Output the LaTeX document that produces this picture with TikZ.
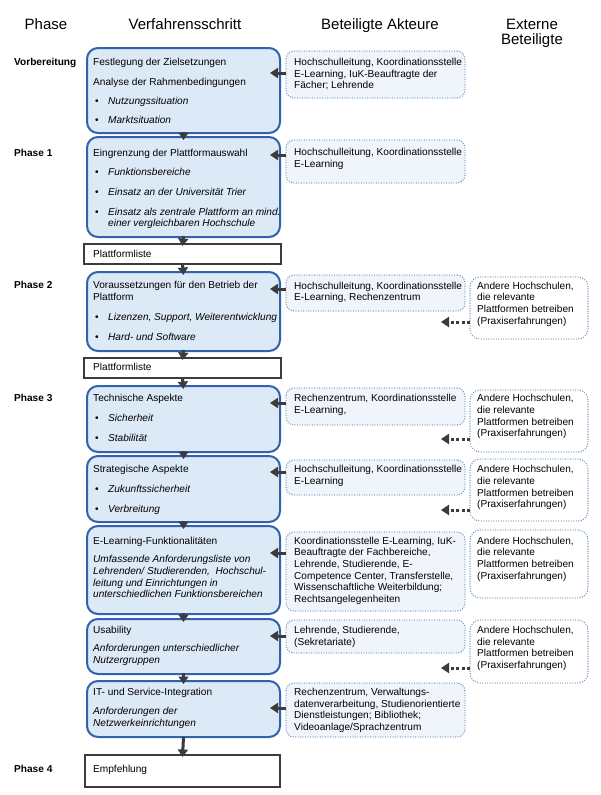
\documentclass[tikz,border=0pt]{standalone}
\usepackage{fontspec}
\setmainfont{Liberation Sans}
\usetikzlibrary{arrows.meta}
\definecolor{bblue}{RGB}{50,98,172}
\definecolor{bfill}{RGB}{220,233,247}
\definecolor{afill}{RGB}{240,245,251}
\definecolor{dotc}{RGB}{105,145,190}
\definecolor{dgray}{RGB}{60,60,60}
\newcommand\fs{\fontsize{10.1pt}{11.6pt}\selectfont}
\newcommand\VL[1]{\vtop{\baselineskip=11.6pt\lineskiplimit=-20pt\lineskip=0pt #1}}
\newcommand\Ln[1]{\hbox{#1}}
\newcommand\bul{\llap{\textbullet\hspace{9.5pt}}}
\newcommand\extxt{\VL{\Ln{Andere Hochschulen,}\Ln{die relevante}\Ln{Plattformen betreiben}\Ln{(Praxiserfahrungen)}}}
\begin{document}
\begin{tikzpicture}[x=1pt,y=-1pt,
 sbox/.style={draw=bblue,line width=2pt,fill=bfill,rounded corners=11pt,anchor=north west,inner sep=0pt,outer sep=0pt},
 lbox/.style={draw=dgray,line width=1.8pt,fill=white,anchor=north west,inner sep=0pt,outer sep=0pt},
 abox/.style={draw=dotc,line width=1.4pt,dash pattern=on 0pt off 2.5pt,line cap=round,fill=afill,rounded corners=8pt,anchor=north west,inner sep=0pt,outer sep=0pt},
 xbox/.style={abox,fill=white,rounded corners=10pt},
 tx/.style={anchor=base west,inner sep=0pt,font=\fs},
 ph/.style={anchor=base west,inner sep=0pt,font=\fs\bfseries},
 hd/.style={anchor=base,inner sep=0pt,font=\fontsize{15pt}{15.5pt}\selectfont},
 harr/.style={draw=dgray,line width=3pt,-{Triangle[length=8pt,width=10pt]}},
 varr/.style={draw=dgray,line width=3pt,-{Triangle[length=7.5pt,width=10pt]}},
 darr/.style={draw=dgray,line width=3pt,dash pattern=on 3pt off 2.5pt,-{Triangle[length=8pt,width=10pt]}}]
\fill[white] (0,0) rectangle (600,795);
\useasboundingbox (0,0) rectangle (600,795);
% headers
\node[hd] (h1) at (46,29) {Phase};
\node[hd] (h2) at (185,29) {Verfahrensschritt};
\node[hd] (h3) at (380,29) {Beteiligte Akteure};
\node[hd] (h4) at (532,29) {Externe};
\node[hd] (h5) at (532,44.5) {Beteiligte};
% phase labels
\node[ph] (lv) at (14,65.2) {Vorbereitung};
\node[ph] (l1) at (14,156.2) {Phase 1};
\node[ph] (l2) at (14,288.5) {Phase 2};
\node[ph] (l3) at (14,401.8) {Phase 3};
\node[ph] (l4) at (14,772.5) {Phase 4};
% step boxes
\node[sbox,minimum width=193pt,minimum height=85pt] (s1) at (87,48) {};
\node[sbox,minimum width=193pt,minimum height=100pt] (s2) at (87,137) {};
\node[lbox,minimum width=197pt,minimum height=20pt] (p1) at (84,244) {};
\node[sbox,minimum width=193pt,minimum height=79pt] (s3) at (87,272) {};
\node[lbox,minimum width=197pt,minimum height=20pt] (p2) at (84,358) {};
\node[sbox,minimum width=193pt,minimum height=66pt] (s4) at (87,386) {};
\node[sbox,minimum width=193pt,minimum height=66pt] (s5) at (87,456) {};
\node[sbox,minimum width=193pt,minimum height=88pt] (s6) at (87,526) {};
\node[sbox,minimum width=193pt,minimum height=55pt] (s7) at (87,619) {};
\node[sbox,minimum width=193pt,minimum height=56pt] (s8) at (87,681) {};
\node[lbox,minimum width=195pt,minimum height=32pt] (e) at (85,755) {};
% actor boxes
\node[abox,minimum width=179pt,minimum height=47pt] (ak1) at (286,51) {};
\node[abox,minimum width=179pt,minimum height=43pt] (ak2) at (286,140) {};
\node[abox,minimum width=179pt,minimum height=36pt] (ak3) at (286,275) {};
\node[abox,minimum width=179pt,minimum height=37pt] (ak4) at (286,388) {};
\node[abox,minimum width=179pt,minimum height=35pt] (ak5) at (286,460) {};
\node[abox,minimum width=179pt,minimum height=79pt] (ak6) at (286,532) {};
\node[abox,minimum width=179pt,minimum height=33pt] (ak7) at (286,620) {};
\node[abox,minimum width=179pt,minimum height=54pt] (ak8) at (286,683) {};
% external boxes
\node[xbox,minimum width=118pt,minimum height=62pt] (ex3) at (470,277) {};
\node[xbox,minimum width=118pt,minimum height=62pt] (ex4) at (470,390) {};
\node[xbox,minimum width=118pt,minimum height=62pt] (ex5) at (470,459) {};
\node[xbox,minimum width=118pt,minimum height=68pt] (ex6) at (470,530) {};
\node[xbox,minimum width=118pt,minimum height=63pt] (ex7) at (470,620) {};
% step texts
\node[tx] (t1a) at (93,65.5) {Festlegung der Zielsetzungen};
\node[tx] (t1b) at (93,85.5) {Analyse der Rahmenbedingungen};
\node[tx] (t1c) at (108,104.5) {\bul\textit{Nutzungssituation}};
\node[tx] (t1d) at (108,123.5) {\bul\textit{Marktsituation}};
\node[tx] (t2a) at (93,156.5) {Eingrenzung der Plattformauswahl};
\node[tx] (t2b) at (108,175) {\bul\textit{Funktionsbereiche}};
\node[tx] (t2c) at (108,195.2) {\bul\textit{Einsatz an der Universität Trier}};
\node[tx] (t2d) at (108,215.2) {\bul\VL{\Ln{\itshape Einsatz als zentrale Plattform an mind.}\Ln{\itshape einer vergleichbaren Hochschule}}};
\node[tx] (tp1) at (93,257) {Plattformliste};
\node[tx] (t3a) at (93,288.5) {\VL{\Ln{Voraussetzungen für den Betrieb der}\Ln{Plattform}}};
\node[tx] (t3b) at (108,320.2) {\bul\textit{Lizenzen, Support, Weiterentwicklung}};
\node[tx] (t3c) at (108,340.2) {\bul\textit{Hard- und Software}};
\node[tx] (tp2) at (93,370.5) {Plattformliste};
\node[tx] (t4a) at (93,401.8) {Technische Aspekte};
\node[tx] (t4b) at (108,421.8) {\bul\textit{Sicherheit}};
\node[tx] (t4c) at (108,441.2) {\bul\textit{Stabilität}};
\node[tx] (t5a) at (93,472.8) {Strategische Aspekte};
\node[tx] (t5b) at (108,492.5) {\bul\textit{Zukunftssicherheit}};
\node[tx] (t5c) at (108,512.5) {\bul\textit{Verbreitung}};
\node[tx] (t6a) at (93,544) {E-Learning-Funktionalitäten};
\node[tx] (t6b) at (93,562.8) {\VL{\Ln{\itshape Umfassende Anforderungsliste von}\Ln{\itshape Lehrenden/ Studierenden,\ \ Hochschul-}\Ln{\itshape leitung und Einrichtungen in}\Ln{\itshape unterschiedlichen Funktionsbereichen}}};
\node[tx] (t7a) at (93,633.5) {Usability};
\node[tx] (t7b) at (93,651.8) {\VL{\Ln{\itshape Anforderungen unterschiedlicher}\Ln{\itshape Nutzergruppen}}};
\node[tx] (t8a) at (93,695.2) {IT- und Service-Integration};
\node[tx] (t8b) at (93,714.5) {\VL{\Ln{\itshape Anforderungen der}\Ln{\itshape Netzwerkeinrichtungen}}};
\node[tx] (te) at (93,772.5) {Empfehlung};
% actor texts
\node[tx] (a1) at (294,65.5) {\VL{\Ln{Hochschulleitung, Koordinationsstelle}\Ln{E-Learning, IuK-Beauftragte der}\Ln{Fächer; Lehrende}}};
\node[tx] (a2) at (294,155.5) {\VL{\Ln{Hochschulleitung, Koordinationsstelle}\Ln{E-Learning}}};
\node[tx] (a3) at (294,289) {\VL{\Ln{Hochschulleitung, Koordinationsstelle}\Ln{E-Learning, Rechenzentrum}}};
\node[tx] (a4) at (294,401.8) {\VL{\Ln{Rechenzentrum, Koordinationsstelle}\Ln{E-Learning,}}};
\node[tx] (a5) at (294,472.8) {\VL{\Ln{Hochschulleitung, Koordinationsstelle}\Ln{E-Learning}}};
\node[tx] (a6) at (294,544.3) {\VL{\Ln{Koordinationsstelle E-Learning, IuK-}\Ln{Beauftragte der Fachbereiche,}\Ln{Lehrende, Studierende, E-}\Ln{Competence Center, Transferstelle,}\Ln{Wissenschaftliche Weiterbildung;}\Ln{Rechtsangelegenheiten}}};
\node[tx] (a7) at (294,633.5) {\VL{\Ln{Lehrende, Studierende,}\Ln{(Sekretariate)}}};
\node[tx] (a8) at (294,695.5) {\VL{\Ln{Rechenzentrum, Verwaltungs-}\Ln{datenverarbeitung, Studienorientierte}\Ln{Dienstleistungen; Bibliothek;}\Ln{Videoanlage/Sprachzentrum}}};
% external texts
\node[tx] (x3) at (477,289.2) {\extxt};
\node[tx] (x4) at (477,401.8) {\extxt};
\node[tx] (x5) at (477,472.8) {\extxt};
\node[tx] (x6) at (477,544.3) {\extxt};
\node[tx] (x7) at (477,633.5) {\extxt};
% vertical arrows
\draw[varr] ([yshift=1pt]s1.south) -- ([yshift=-3pt]s2.north);
\draw[varr] ([yshift=1pt]s2.south) -- ([yshift=-2pt]p1.north);
\draw[varr] (p1.south) -- ([yshift=-3pt]s3.north);
\draw[varr] ([yshift=1pt]s3.south) -- ([yshift=-2pt]p2.north);
\draw[varr] (p2.south) -- ([yshift=-3pt]s4.north);
\draw[varr] ([yshift=1pt]s4.south) -- ([yshift=-3pt]s5.north);
\draw[varr] ([yshift=1pt]s5.south) -- ([yshift=-3pt]s6.north);
\draw[varr] ([yshift=1pt]s6.south) -- ([yshift=-3pt]s7.north);
\draw[varr] ([yshift=1pt]s7.south) -- ([yshift=-3pt]s8.north);
\draw[varr] (s8.south) -- ([yshift=-2pt]e.north);
% actor arrows
\coordinate (r1) at (270,73);
\coordinate (r2) at (270,155);
\coordinate (r3) at (270,289);
\coordinate (r4) at (270,403);
\coordinate (r5) at (270,472);
\coordinate (r6) at (270,553);
\coordinate (r7) at (270,636);
\coordinate (r8) at (270,708);
\draw[harr] (ak1.west |- r1) -- (r1);
\draw[harr] (ak2.west |- r2) -- (r2);
\draw[harr] (ak3.west |- r3) -- (r3);
\draw[harr] (ak4.west |- r4) -- (r4);
\draw[harr] (ak5.west |- r5) -- (r5);
\draw[harr] (ak6.west |- r6) -- (r6);
\draw[harr] (ak7.west |- r7) -- (r7);
\draw[harr] (ak8.west |- r8) -- (r8);
% external dotted arrows
\coordinate (d3) at (441,322);
\coordinate (d4) at (441,439);
\coordinate (d5) at (441,510);
\coordinate (d7) at (441,668);
\draw[darr] (ex3.west |- d3) -- (d3);
\draw[darr] (ex4.west |- d4) -- (d4);
\draw[darr] (ex5.west |- d5) -- (d5);
\draw[darr] (ex7.west |- d7) -- (d7);
\end{tikzpicture}
\end{document}
